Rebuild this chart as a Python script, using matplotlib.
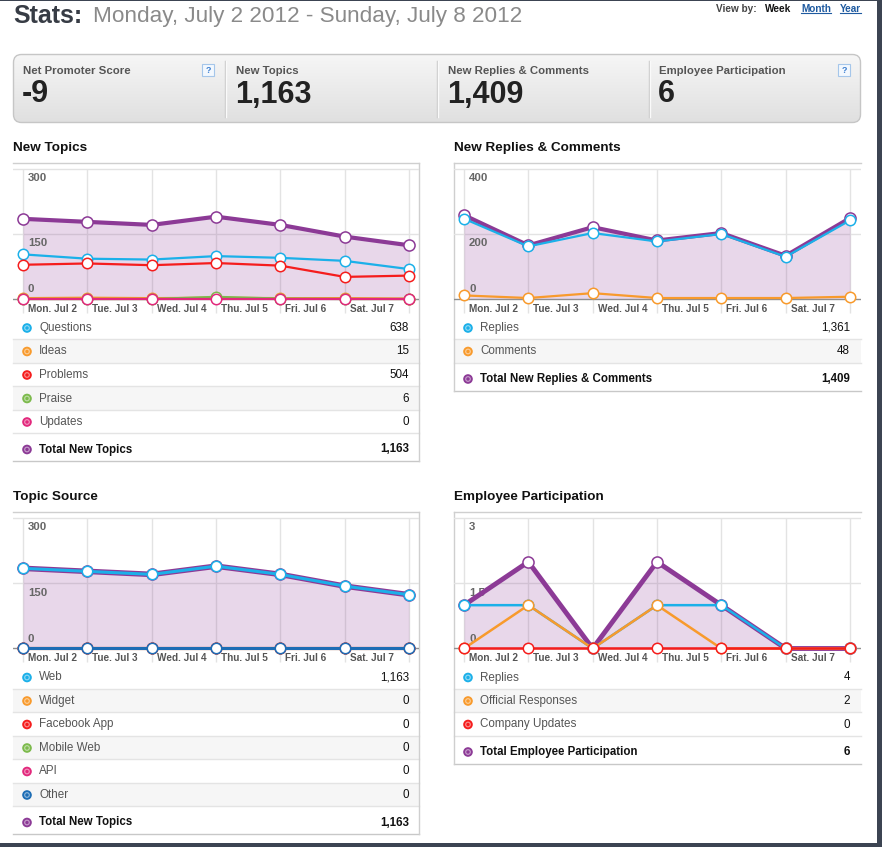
import matplotlib
matplotlib.use('Agg')
import matplotlib.pyplot as plt
from matplotlib.patches import Rectangle, Circle, FancyBboxPatch
from matplotlib.colors import LinearSegmentedColormap
import numpy as np

plt.rcParams['font.family'] = ['Liberation Sans', 'DejaVu Sans']

W, H = 882, 847

CYAN = '#1bb0e9'
ORANGE = '#f89a2c'
RED = '#f51d1d'
GREEN = '#7cba4c'
PINK = '#e2287c'
BLUE = '#1d6db5'
PURPLE = '#8c3a96'

# ---- data ----
day_labels = ['Mon. Jul 2', 'Tue. Jul 3', 'Wed. Jul 4', 'Thu. Jul 5', 'Fri. Jul 6', 'Sat. Jul 7']
n_days = 7

summary_labels = ['Net Promoter Score', 'New Topics', 'New Replies & Comments', 'Employee Participation']
summary_values = ['-9', '1,163', '1,409', '6']

# New Topics
nt_questions = [103, 93, 91, 99, 95, 88, 69]
nt_ideas = [2, 3, 2, 3, 2, 2, 1]
nt_problems = [79, 82, 78, 83, 77, 51, 54]
nt_praise = [0, 0, 0, 5, 1, 0, 0]
nt_updates = [0, 0, 0, 0, 0, 0, 0]
nt_total = [185, 178, 171, 190, 171, 144, 124]
nt_ticks = [0, 150, 300]
nt_tick_labels = ['0', '150', '300']
nt_names = ['Questions', 'Ideas', 'Problems', 'Praise', 'Updates']
nt_counts = ['638', '15', '504', '6', '0']

# New Replies & Comments
rc_replies = [247, 162, 203, 177, 200, 130, 242]
rc_comments = [11, 3, 18, 3, 3, 3, 7]
rc_total = [258, 165, 221, 180, 203, 133, 249]
rc_ticks = [0, 200, 400]
rc_tick_labels = ['0', '200', '400']
rc_names = ['Replies', 'Comments']
rc_counts = ['1,361', '48']

# Topic Source
ts_web = [185, 178, 171, 190, 171, 144, 124]
ts_widget = [0, 0, 0, 0, 0, 0, 0]
ts_facebook = [0, 0, 0, 0, 0, 0, 0]
ts_mobile = [0, 0, 0, 0, 0, 0, 0]
ts_api = [0, 0, 0, 0, 0, 0, 0]
ts_other = [0, 0, 0, 0, 0, 0, 0]
ts_total = [185, 178, 171, 190, 171, 144, 124]
ts_names = ['Web', 'Widget', 'Facebook App', 'Mobile Web', 'API', 'Other']
ts_counts = ['1,163', '0', '0', '0', '0', '0']

# Employee Participation
ep_replies = [1, 1, 0, 1, 1, 0, 0]
ep_official = [0, 1, 0, 1, 0, 0, 0]
ep_company = [0, 0, 0, 0, 0, 0, 0]
ep_total = [1, 2, 0, 2, 1, 0, 0]
ep_ticks = [0, 1.5, 3]
ep_tick_labels = ['0', '1.5', '3']
ep_names = ['Replies', 'Official Responses', 'Company Updates']
ep_counts = ['4', '2', '0']

fig = plt.figure(figsize=(W / 100, H / 100), dpi=100)
bg = fig.add_axes([0, 0, 1, 1])
bg.axis('off')

# ---- header ----
bg.text(13, 16, 'Stats:', fontsize=18, fontweight='bold', color='#373c45', va='center')
bg.text(93, 16.5, 'Monday, July 2 2012 - Sunday, July 8 2012', fontsize=16.2, color='#8a8a8a', va='center')
bg.text(757, 8.5, 'View by:', fontsize=7.2, fontweight='bold', color='#444', va='center', ha='right')
bg.text(765, 8.5, 'Week', fontsize=7.2, fontweight='bold', color='#111', va='center')
for word, x0, x1 in [('Month', 801, 831), ('Year', 840, 861)]:
    bg.text(x0, 8.5, word, fontsize=7.2, fontweight='bold', color='#1e5aa0', va='center')
    bg.plot([x0, x1], [13.2, 13.2], color='#1e5aa0', lw=0.8)

# ---- summary box ----
box = FancyBboxPatch((13.5, 54.5), 847, 68, boxstyle='round,pad=0,rounding_size=8',
                     fc='none', ec='#c6c6c6', lw=1, zorder=3)
bg.add_patch(box)
grad = np.linspace(0, 1, 100).reshape(-1, 1)
cmap = LinearSegmentedColormap.from_list('g', ['#f6f6f6', '#e0e0e0'])
im = bg.imshow(grad, extent=(13.5, 860.5, 122.5, 54.5), cmap=cmap, aspect='auto', zorder=1)
im.set_clip_path(box)
cell_x = [23, 236, 448, 659]
for k, (lab, val) in enumerate(zip(summary_labels, summary_values)):
    bg.text(cell_x[k], 70.5, lab, fontsize=8.2, fontweight='bold', color='#555', va='center', zorder=4)
    bg.text(cell_x[k] - 1, 94.5, val, fontsize=22, fontweight='bold', color='#222', va='center', zorder=4)
for xd in [224.5, 436.5, 648.5]:
    bg.plot([xd, xd], [61, 117], color='#c9c9c9', lw=1, zorder=4)
    bg.plot([xd + 1, xd + 1], [61, 117], color='#fafafa', lw=1, zorder=4)
for qx in [202, 838]:
    bg.add_patch(Rectangle((qx, 64), 12, 12, fc='#f3f8fe', ec='#a5c6ea', lw=0.8, zorder=4))
    bg.text(qx + 6, 70.5, '?', fontsize=6.5, fontweight='bold', color='#3d7fd0',
            ha='center', va='center', zorder=5)

STEP = 386 / 6


def draw_panel(L, T, Wp, title, total, series, ticks, tick_labels, rows, total_label,
               total_value, side, total_lw=3.0, series_lw=1.6):
    bg.text(L, T - 15.5, title, fontsize=9.7, fontweight='bold', color='#111', va='center')
    scale = 130 / ticks[-1]
    ax = fig.add_axes([L / W, 1 - (T + 155) / H, Wp / W, 155 / H])
    ax.axis('off')
    ax.set_xlim(-10 / STEP, 6 + (Wp - 396) / STEP)
    ax.set_ylim(-19 / scale, 136 / scale)
    x = np.arange(n_days)
    for v in ticks[1:]:
        ax.axhline(v, color='#e3e3e3', lw=1, zorder=1)
    ax.vlines(x, -14 / scale, ticks[-1], color='#e3e3e3', lw=1, zorder=1)
    ax.axhline(0, color='#8f8f8f', lw=1, zorder=2)
    ax.fill_between(x, 0, total, color=PURPLE, alpha=0.2, lw=0, zorder=1.5)
    for v, s in zip(ticks, tick_labels):
        if v == 0:
            ax.annotate(s, xy=(ax.get_xlim()[0], v), xytext=(15, 5), textcoords='offset pixels',
                        fontsize=8.2, fontweight='bold', color='#666', va='bottom', zorder=2.5)
        else:
            ax.annotate(s, xy=(ax.get_xlim()[0], v), xytext=(15, -4), textcoords='offset pixels',
                        fontsize=8.2, fontweight='bold', color='#666', va='top', zorder=2.5)
    for i, lab in enumerate(day_labels):
        ax.annotate(lab, xy=(i, 0), xytext=(5, -9.5), textcoords='offset pixels',
                    fontsize=7.2, fontweight='bold', color='#555', va='center', ha='left')
    ax.plot(x, total, color=PURPLE, lw=total_lw, marker='o', ms=8, mfc='white',
            mec=PURPLE, mew=1.1, zorder=3, solid_joinstyle='round')
    for k, (vals, col) in enumerate(series):
        ax.plot(x, vals, color=col, lw=series_lw, marker='o', ms=7.5, mfc='white',
                mec=col, mew=1.1, zorder=4 + k * 0.1)

    # legend table
    y0 = T + 153
    rh = 23.5
    for i, (lab, val, col) in enumerate(rows):
        top = y0 + rh * i
        if i % 2 == 1:
            bg.add_patch(Rectangle((L, top), Wp, rh, fc='#f6f6f6', ec='none', zorder=1))
        bg.plot([L, L + Wp], [top + rh, top + rh], color='#e4e4e4', lw=1, zorder=2)
        cy = top + 12
        bg.add_patch(Circle((L + 14, cy), 4.8, fc=col, ec='none', zorder=3))
        bg.add_patch(Circle((L + 14, cy), 2.9, fc='white', ec='none', alpha=0.5, zorder=3))
        bg.add_patch(Circle((L + 14, cy), 1.7, fc=col, ec='none', zorder=3))
        bg.text(L + 26, cy, lab, fontsize=8.4, color='#555', va='center', zorder=3)
        bg.text(L + 396, cy, val, fontsize=8.4, color='#111', va='center', ha='right', zorder=3)
    top = y0 + rh * len(rows)
    cy = top + 16
    bg.add_patch(Circle((L + 14, cy), 4.8, fc=PURPLE, ec='none', zorder=3))
    bg.add_patch(Circle((L + 14, cy), 2.9, fc='white', ec='none', alpha=0.5, zorder=3))
    bg.add_patch(Circle((L + 14, cy), 1.7, fc=PURPLE, ec='none', zorder=3))
    bg.text(L + 26, cy, total_label, fontsize=8.3, fontweight='bold', color='#111', va='center', zorder=3)
    bg.text(L + 396, cy, total_value, fontsize=8.3, fontweight='bold', color='#111',
            va='center', ha='right', zorder=3)
    bottom = top + 28
    bg.plot([L, L + Wp], [bottom, bottom], color='#c8c8c8', lw=1, zorder=2)
    bg.plot([L, L + Wp], [T, T], color='#cfcfcf', lw=1, zorder=2)
    sx = L + Wp if side == 'right' else L
    bg.plot([sx, sx], [T, bottom], color='#cfcfcf', lw=1, zorder=2)


draw_panel(13, 163, 406, 'New Topics', nt_total,
           [(nt_questions, CYAN), (nt_problems, RED), (nt_ideas, ORANGE), (nt_praise, GREEN), (nt_updates, PINK)],
           nt_ticks, nt_tick_labels,
           list(zip(nt_names, nt_counts, [CYAN, ORANGE, RED, GREEN, PINK])),
           'Total New Topics', '1,163', 'right')

draw_panel(454, 163, 407, 'New Replies & Comments', rc_total,
           [(rc_replies, CYAN), (rc_comments, ORANGE)],
           rc_ticks, rc_tick_labels,
           list(zip(rc_names, rc_counts, [CYAN, ORANGE])),
           'Total New Replies & Comments', '1,409', 'left')

draw_panel(13, 512.5, 406, 'Topic Source', ts_total,
           [(ts_web, CYAN), (ts_widget, ORANGE), (ts_facebook, RED), (ts_mobile, GREEN),
            (ts_api, PINK), (ts_other, BLUE)],
           nt_ticks, nt_tick_labels,
           list(zip(ts_names, ts_counts, [CYAN, ORANGE, RED, GREEN, PINK, BLUE])),
           'Total New Topics', '1,163', 'right', total_lw=4.0, series_lw=2.2)

draw_panel(454, 512.5, 407, 'Employee Participation', ep_total,
           [(ep_replies, CYAN), (ep_official, ORANGE), (ep_company, RED)],
           ep_ticks, ep_tick_labels,
           list(zip(ep_names, ep_counts, [CYAN, ORANGE, RED])),
           'Total Employee Participation', '6', 'left', total_lw=3.5, series_lw=1.8)

# dark window frame
bg.add_patch(Rectangle((877, 0), 5, H, fc='#3c4452', ec='none', zorder=10))
bg.add_patch(Rectangle((0, 843), W, 4, fc='#3c4452', ec='none', zorder=10))
bg.add_patch(Rectangle((0, 0), W, 1.5, fc='#3c4452', ec='none', zorder=10))

bg.set_xlim(0, W)
bg.set_ylim(H, 0)

fig.savefig('out.png', dpi=100, facecolor='white')
